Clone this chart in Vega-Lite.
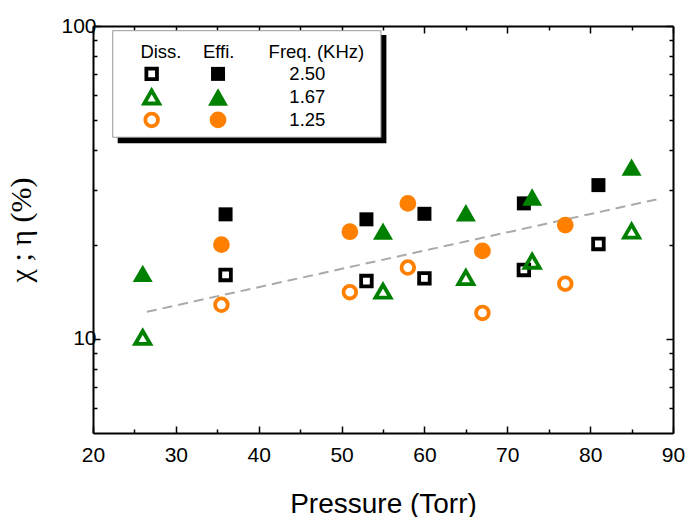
{
  "$schema": "https://vega.github.io/schema/vega-lite/v6.json",
  "autosize": "none",
  "width": 580,
  "height": 407,
  "padding": {"left": 93, "top": 26, "right": 12, "bottom": 84},
  "background": "white",
  "config": {
    "view": {"stroke": null},
    "font": "Liberation Sans",
    "axis": {"domainColor": "black", "domainWidth": 2, "tickColor": "black", "tickWidth": 1.5, "grid": false, "labelColor": "black", "titleColor": "black"}
  },
  "datasets": {
    "pts": [
      {"p": 36, "v": 25.0, "freq": "2.50", "kind": "Effi"},
      {"p": 53, "v": 24.1, "freq": "2.50", "kind": "Effi"},
      {"p": 60, "v": 25.1, "freq": "2.50", "kind": "Effi"},
      {"p": 72, "v": 27.1, "freq": "2.50", "kind": "Effi"},
      {"p": 81, "v": 31.0, "freq": "2.50", "kind": "Effi"},
      {"p": 36, "v": 16.0, "freq": "2.50", "kind": "Diss"},
      {"p": 53, "v": 15.3, "freq": "2.50", "kind": "Diss"},
      {"p": 60, "v": 15.6, "freq": "2.50", "kind": "Diss"},
      {"p": 72, "v": 16.6, "freq": "2.50", "kind": "Diss"},
      {"p": 81, "v": 20.1, "freq": "2.50", "kind": "Diss"},
      {"p": 26, "v": 16.2, "freq": "1.67", "kind": "Effi"},
      {"p": 55, "v": 22.1, "freq": "1.67", "kind": "Effi"},
      {"p": 65, "v": 25.3, "freq": "1.67", "kind": "Effi"},
      {"p": 73, "v": 28.4, "freq": "1.67", "kind": "Effi"},
      {"p": 85, "v": 35.4, "freq": "1.67", "kind": "Effi"},
      {"p": 26, "v": 10.1, "freq": "1.67", "kind": "Diss"},
      {"p": 55, "v": 14.2, "freq": "1.67", "kind": "Diss"},
      {"p": 65, "v": 15.7, "freq": "1.67", "kind": "Diss"},
      {"p": 73, "v": 17.7, "freq": "1.67", "kind": "Diss"},
      {"p": 85, "v": 22.1, "freq": "1.67", "kind": "Diss"},
      {"p": 35.5, "v": 20.0, "freq": "1.25", "kind": "Effi"},
      {"p": 51, "v": 22.0, "freq": "1.25", "kind": "Effi"},
      {"p": 58, "v": 27.1, "freq": "1.25", "kind": "Effi"},
      {"p": 67, "v": 19.1, "freq": "1.25", "kind": "Effi"},
      {"p": 77, "v": 23.1, "freq": "1.25", "kind": "Effi"},
      {"p": 35.5, "v": 12.85, "freq": "1.25", "kind": "Diss"},
      {"p": 51, "v": 14.1, "freq": "1.25", "kind": "Diss"},
      {"p": 58, "v": 16.9, "freq": "1.25", "kind": "Diss"},
      {"p": 67, "v": 12.1, "freq": "1.25", "kind": "Diss"},
      {"p": 77, "v": 15.0, "freq": "1.25", "kind": "Diss"}
    ],
    "fit": [
      {"p": 26.5, "v": 12.2},
      {"p": 88, "v": 27.9}
    ],
    "legsym": [
      {"p": 27.08, "v": 70.3, "freq": "2.50", "kind": "Diss"},
      {"p": 27.08, "v": 59.3, "freq": "1.67", "kind": "Diss"},
      {"p": 27.08, "v": 50.1, "freq": "1.25", "kind": "Diss"},
      {"p": 35.09, "v": 70.3, "freq": "2.50", "kind": "Effi"},
      {"p": 35.09, "v": 59.3, "freq": "1.67", "kind": "Effi"},
      {"p": 35.09, "v": 50.1, "freq": "1.25", "kind": "Effi"}
    ],
    "legtext": [
      {"p": 28.2, "v": 82.6, "label": "Diss."},
      {"p": 35.17, "v": 82.6, "label": "Effi."},
      {"p": 46.96, "v": 82.6, "label": "Freq. (KHz)"},
      {"p": 45.87, "v": 70.3, "label": "2.50"},
      {"p": 45.87, "v": 59.3, "label": "1.67"},
      {"p": 45.87, "v": 50.1, "label": "1.25"}
    ],
    "box": [
      {"layer": "shadow", "x1": 22.98, "x2": 55.41, "y1": 42.2, "y2": 93.6},
      {"layer": "frame", "x1": 22.38, "x2": 54.75, "y1": 44.1, "y2": 96.6}
    ]
  },
  "resolve": {"axis": {"x": "independent", "y": "independent"}, "scale": {"size": "independent"}},
  "layer": [
    {
      "data": {"name": "fit"},
      "mark": {"type": "line", "color": "#aaaaaa", "strokeWidth": 2, "strokeDash": [10, 6]},
      "encoding": {
        "x": {"field": "p", "type": "quantitative",
          "scale": {"domain": [20, 90], "nice": false, "zero": false},
          "axis": {"orient": "bottom", "values": [20, 25, 30, 35, 40, 45, 50, 55, 60, 65, 70, 75, 80, 85, 90],
            "labelExpr": "datum.value % 10 == 0 ? datum.label : ''",
            "tickSize": {"condition": {"test": "datum.value % 10 == 0", "value": -7}, "value": -4},
            "labelPadding": 18, "labelFontSize": 21, "labelFont": "Liberation Sans", "labelFlush": false,
            "title": "Pressure (Torr)", "titleFontSize": 28, "titleFontWeight": "normal", "titleFont": "Liberation Sans", "titlePadding": 25}},
        "y": {"field": "v", "type": "quantitative",
          "scale": {"type": "log", "domain": [5, 100], "nice": false},
          "axis": {"orient": "left", "values": [6, 7, 8, 9, 10, 20, 30, 40, 50, 60, 70, 80, 90, 100],
            "labelExpr": "datum.value == 10 || datum.value == 100 ? datum.label : ''",
            "tickSize": {"condition": {"test": "datum.value == 10 || datum.value == 100", "value": -7}, "value": -4},
            "labelPadding": 4, "labelFontSize": 21, "labelFont": "Liberation Sans", "labelFlush": false,
            "title": "χ ; η (%)", "titleFontSize": 30, "titleFontWeight": "normal", "titleFont": "Liberation Serif", "titlePadding": 24}}
      }
    },
    {
      "data": {"name": "box"},
      "transform": [{"filter": "datum.layer == 'shadow'"}],
      "mark": {"type": "rect", "color": "black"},
      "encoding": {
        "x": {"field": "x1", "type": "quantitative",
          "axis": {"orient": "top", "values": [20, 25, 30, 35, 40, 45, 50, 55, 60, 65, 70, 75, 80, 85, 90], "labels": false, "title": null,
            "tickSize": {"condition": {"test": "datum.value % 10 == 0", "value": -7}, "value": -4}}},
        "x2": {"field": "x2"},
        "y": {"field": "y1", "type": "quantitative",
          "axis": {"orient": "right", "values": [6, 7, 8, 9, 10, 20, 30, 40, 50, 60, 70, 80, 90, 100], "labels": false, "title": null,
            "tickSize": {"condition": {"test": "datum.value == 10 || datum.value == 100", "value": -7}, "value": -4}}},
        "y2": {"field": "y2"}
      }
    },
    {
      "data": {"name": "box"},
      "transform": [{"filter": "datum.layer == 'frame'"}],
      "mark": {"type": "rect", "fill": "white", "stroke": "#999999", "strokeWidth": 1},
      "encoding": {
        "x": {"field": "x1", "type": "quantitative", "axis": null},
        "x2": {"field": "x2"},
        "y": {"field": "y1", "type": "quantitative", "axis": null},
        "y2": {"field": "y2"}
      }
    },
    {
      "data": {"name": "legtext"},
      "mark": {"type": "text", "fontSize": 18.5, "font": "Liberation Sans", "color": "black", "align": "center", "baseline": "middle"},
      "encoding": {
        "x": {"field": "p", "type": "quantitative", "axis": null},
        "y": {"field": "v", "type": "quantitative", "axis": null},
        "text": {"field": "label"}
      }
    },
    {
      "data": {"name": "pts"},
      "transform": [{"filter": "datum.kind == 'Effi'"}],
      "mark": {"type": "point", "filled": true, "opacity": 1},
      "encoding": {
        "x": {"field": "p", "type": "quantitative", "axis": null},
        "y": {"field": "v", "type": "quantitative", "axis": null},
        "shape": {"field": "freq", "type": "nominal", "scale": {"domain": ["2.50", "1.67", "1.25"], "range": ["square", "triangle-up", "circle"]}, "legend": null},
        "color": {"field": "freq", "type": "nominal", "scale": {"domain": ["2.50", "1.67", "1.25"], "range": ["#000000", "#008000", "#ff8000"]}, "legend": null},
        "size": {"field": "freq", "type": "nominal", "scale": {"type": "ordinal", "domain": ["2.50", "1.67", "1.25"], "range": [196, 400, 280]}, "legend": null}
      }
    },
    {
      "data": {"name": "pts"},
      "transform": [{"filter": "datum.kind == 'Diss'"}],
      "mark": {"type": "point", "filled": false, "strokeWidth": 3.8, "opacity": 1},
      "encoding": {
        "x": {"field": "p", "type": "quantitative", "axis": null},
        "y": {"field": "v", "type": "quantitative", "axis": null},
        "shape": {"field": "freq", "type": "nominal", "legend": null},
        "color": {"field": "freq", "type": "nominal", "legend": null},
        "size": {"field": "freq", "type": "nominal", "scale": {"type": "ordinal", "domain": ["2.50", "1.67", "1.25"], "range": [112, 225, 160]}, "legend": null}
      }
    },
    {
      "data": {"name": "legsym"},
      "transform": [{"filter": "datum.kind == 'Effi'"}],
      "mark": {"type": "point", "filled": true, "opacity": 1},
      "encoding": {
        "x": {"field": "p", "type": "quantitative", "axis": null},
        "y": {"field": "v", "type": "quantitative", "axis": null},
        "shape": {"field": "freq", "type": "nominal", "legend": null},
        "color": {"field": "freq", "type": "nominal", "legend": null},
        "size": {"field": "freq", "type": "nominal", "scale": {"type": "ordinal", "domain": ["2.50", "1.67", "1.25"], "range": [196, 400, 280]}, "legend": null}
      }
    },
    {
      "data": {"name": "legsym"},
      "transform": [{"filter": "datum.kind == 'Diss'"}],
      "mark": {"type": "point", "filled": false, "strokeWidth": 3.8, "opacity": 1},
      "encoding": {
        "x": {"field": "p", "type": "quantitative", "axis": null},
        "y": {"field": "v", "type": "quantitative", "axis": null},
        "shape": {"field": "freq", "type": "nominal", "legend": null},
        "color": {"field": "freq", "type": "nominal", "legend": null},
        "size": {"field": "freq", "type": "nominal", "scale": {"type": "ordinal", "domain": ["2.50", "1.67", "1.25"], "range": [112, 225, 160]}, "legend": null}
      }
    }
  ]
}
